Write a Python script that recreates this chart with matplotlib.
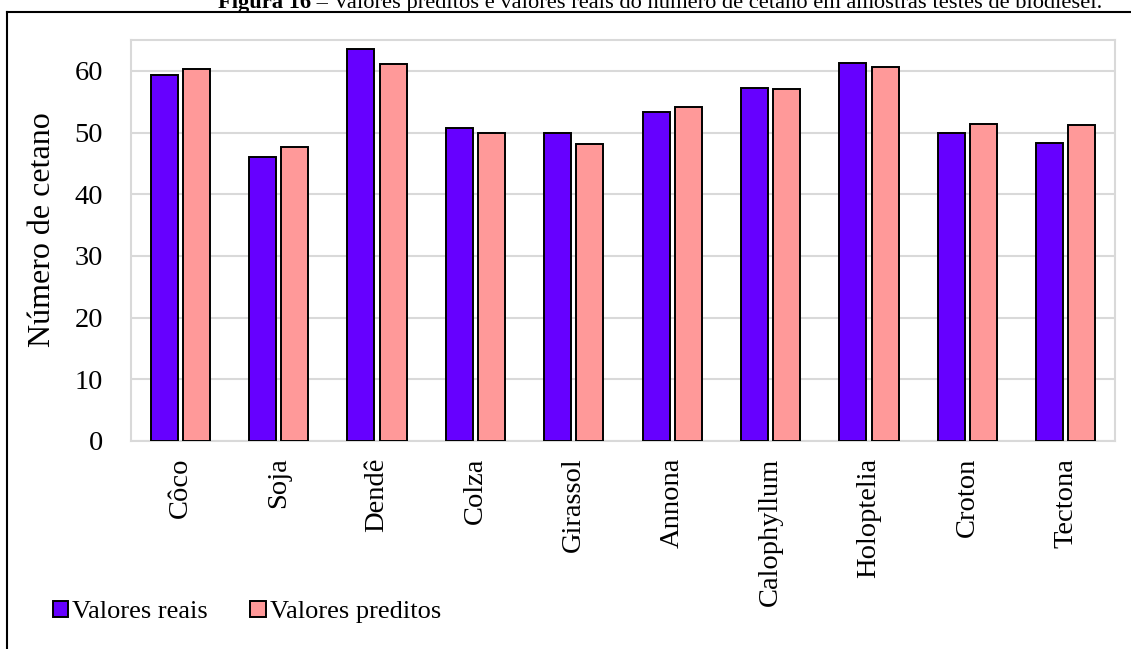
import numpy as np
import matplotlib.pyplot as plt

categorias = ['Côco', 'Soja', 'Dendê', 'Colza', 'Girassol', 'Annona',
              'Calophyllum', 'Holoptelia', 'Croton', 'Tectona']
valores_reais = [59.3, 46.1, 63.5, 50.8, 49.9, 53.4, 57.3, 61.2, 49.9, 48.3]
valores_preditos = [60.3, 47.6, 61.1, 49.9, 48.2, 54.2, 57.0, 60.7, 51.4, 51.2]
y_ticks = [0, 10, 20, 30, 40, 50, 60]

plt.rcParams['font.family'] = ['Liberation Serif', 'DejaVu Serif']

W, H = 1131, 649
fig = plt.figure(figsize=(W / 100, H / 100), dpi=100)
ax = fig.add_axes([131 / W, 1 - 441 / H, (1115 - 131) / W, (441 - 40) / H])

x = np.arange(len(categorias))
w = 0.275
off = 0.163
ax.bar(x - off, valores_reais, w, color='#6600FF', edgecolor='black', lw=1.4,
       label='Valores reais', zorder=3)
ax.bar(x + off, valores_preditos, w, color='#FF9999', edgecolor='black', lw=1.4,
       label='Valores preditos', zorder=3)

ax.set_xlim(-0.5, len(categorias) - 0.5)
ax.set_ylim(0, 65)
ax.set_yticks(y_ticks)
ax.set_xticks(x)
ax.set_xticklabels(categorias, rotation=90, fontsize=20.5)
ax.tick_params(axis='y', length=0, pad=20, labelsize=20.5)
ax.tick_params(axis='x', length=0, pad=12)
ax.yaxis.grid(True, color='#d9d9d9', lw=1.5, zorder=0)
for s in ax.spines.values():
    s.set_color('#d9d9d9')
    s.set_linewidth(1.5)
ax.set_ylabel('Número de cetano', fontsize=23)
ax.yaxis.set_label_coords(-(131 - 57) / (1115 - 131), (441 - 230) / (441 - 40))

fig.legend(loc='center left', bbox_to_anchor=(42 / W, 1 - 612 / H), ncol=2,
           frameon=False, fontsize=19, handlelength=0.6, handleheight=0.6,
           handletextpad=0.15, columnspacing=1.6, borderaxespad=0)

# outer frame of the figure box
fig.add_artist(plt.Line2D([7 / W, 1], [1 - 12 / H, 1 - 12 / H], color='black', lw=1.5))
fig.add_artist(plt.Line2D([7 / W, 7 / W], [0, 1 - 12 / H], color='black', lw=1.5))

# title cut at the top, as in the source page
yt = 1 - 8 / H
t1 = fig.text(218 / W, yt, 'Figura 16', fontsize=16.2, fontweight='bold', va='baseline')
r = fig.canvas.get_renderer()
bb = t1.get_window_extent(r)
fig.text(bb.x1 / W, yt, ' – Valores preditos e valores reais do número de cetano em amostras testes de biodiesel.',
         fontsize=16.2, va='baseline')

fig.savefig('out.png', dpi=100)
